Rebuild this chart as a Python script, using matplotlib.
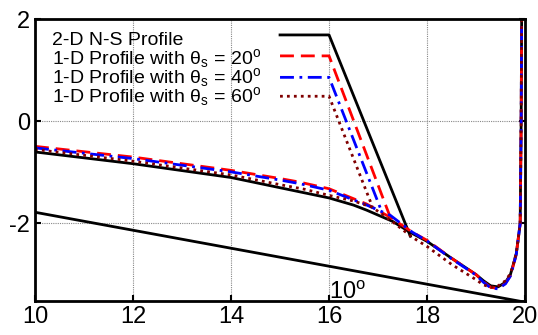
import matplotlib
matplotlib.use("Agg")
import matplotlib.pyplot as plt
import numpy as np

plt.rcParams['font.family'] = ['Liberation Sans', 'DejaVu Sans']
plt.rcParams['mathtext.fontset'] = 'custom'
plt.rcParams['mathtext.rm'] = 'Liberation Sans'
plt.rcParams['mathtext.it'] = 'Liberation Sans'
plt.rcParams['axes.unicode_minus'] = False

# 2-D N-S profile
ns_x = [10, 12, 14, 15.0, 15.5, 16, 16.5, 16.77, 17.3, 17.65, 18, 18.5, 19, 19.15, 19.3, 19.45, 19.6, 19.7, 19.76, 19.82, 19.86, 19.9, 19.91, 19.92, 19.93]
ns_y = [-0.60, -0.83, -1.10, -1.30, -1.40, -1.50, -1.64, -1.74, -1.96, -2.17, -2.35, -2.68, -3.0, -3.12, -3.22, -3.24, -3.15, -3.0, -2.8, -2.59, -2.3, -2.0, -1.0, 0.0, 2.0]

# 1-D profiles (theta_s = 20, 40, 60)
p20_x = [10, 12, 14, 15.0, 15.4, 16, 16.77, 17.25, 17.7, 18, 18.5, 19, 19.15, 19.3, 19.45, 19.6, 19.7, 19.76, 19.82, 19.86, 19.9, 19.91, 19.92, 19.93]
p20_y = [-0.49, -0.70, -0.96, -1.12, -1.19, -1.32, -1.62, -1.88, -2.17, -2.33, -2.68, -3.0, -3.14, -3.25, -3.27, -3.17, -3.02, -2.82, -2.6, -2.3, -2.0, -1.0, 0.0, 2.0]
p40_x = p20_x
p40_y = [-0.52, -0.73, -0.99, -1.15, -1.22, -1.35, -1.64, -1.84, -2.17, -2.34, -2.69, -3.01, -3.15, -3.26, -3.28, -3.18, -3.03, -2.83, -2.6, -2.3, -2.0, -1.0, 0.0, 2.0]
p60_x = [10, 12, 14, 15.0, 15.5, 16, 16.5, 16.88, 17.3, 17.7, 18, 18.5, 19, 19.15, 19.3, 19.45, 19.6, 19.7, 19.76, 19.82, 19.86, 19.9, 19.91, 19.92, 19.93]
p60_y = [-0.55, -0.78, -1.05, -1.24, -1.33, -1.45, -1.56, -1.68, -1.97, -2.27, -2.45, -2.8, -3.1, -3.2, -3.25, -3.22, -3.12, -2.98, -2.8, -2.58, -2.3, -2.0, -1.0, 0.0, 2.0]

# upper branches (legend sample + shock line)
top_ns_x, top_ns_y = [15.0, 16.0, 17.66], [1.69, 1.69, -2.25]
top20_x, top20_y = [15.0, 16.0, 17.25], [1.28, 1.28, -1.88]
top40_x, top40_y = [15.0, 16.0, 17.08], [0.86, 0.86, -1.78]
top60_x, top60_y = [15.0, 16.0, 16.88], [0.49, 0.49, -1.66]

# 10 degree line
wall_x = [10, 20]
wall_y = [-1.78, -3.54]

labels = ['2-D N-S Profile',
          r'1-D Profile with θ$_\mathrm{s}$ = 20$^\mathrm{o}$',
          r'1-D Profile with θ$_\mathrm{s}$ = 40$^\mathrm{o}$',
          r'1-D Profile with θ$_\mathrm{s}$ = 60$^\mathrm{o}$']
label_y = [1.49, 1.12, 0.75, 0.37]

fig = plt.figure(figsize=(5.38, 3.35), dpi=100)
ax = fig.add_axes([0.065, 0.101, 0.911, 0.842])

lw = 2.0
ax.plot(wall_x, wall_y, color='black', lw=lw)
ax.plot(ns_x, ns_y, color='black', lw=lw)
ax.plot(top_ns_x, top_ns_y, color='black', lw=lw)

ax.plot(p20_x, p20_y, color='red', lw=lw, ls=(0, (5, 2.5)))
ax.plot(top20_x, top20_y, color='red', lw=lw, ls=(0, (5, 2.5)))
ax.plot(p40_x, p40_y, color='blue', lw=lw, ls=(0, (5, 2, 1, 2)))
ax.plot(top40_x, top40_y, color='blue', lw=lw, ls=(0, (5, 2, 1, 2)))
ax.plot(p60_x, p60_y, color='#800000', lw=lw, ls=(0, (1, 1.5)))
ax.plot(top60_x, top60_y, color='#800000', lw=lw, ls=(0, (1, 1.5)))

for t, yy in zip(labels, label_y):
    ax.text(10.35, yy, t, fontsize=14, va='baseline', ha='left')

ax.text(16.0, -3.47, r'10$^\mathrm{o}$', fontsize=17, va='baseline', ha='left')

ax.set_xlim(10, 20)
ax.set_ylim(-3.52, 2)
ax.set_xticks(np.arange(10, 21, 2))
ax.set_yticks([-2, 0, 2])
ax.grid(True, color='#888888', ls=(0, (1, 1)), lw=0.8)
ax.tick_params(direction='in', labelsize=17, length=4, width=1.5,
               top=False, right=True)
for s in ax.spines.values():
    s.set_linewidth(2)

fig.savefig('out.png', dpi=100)
